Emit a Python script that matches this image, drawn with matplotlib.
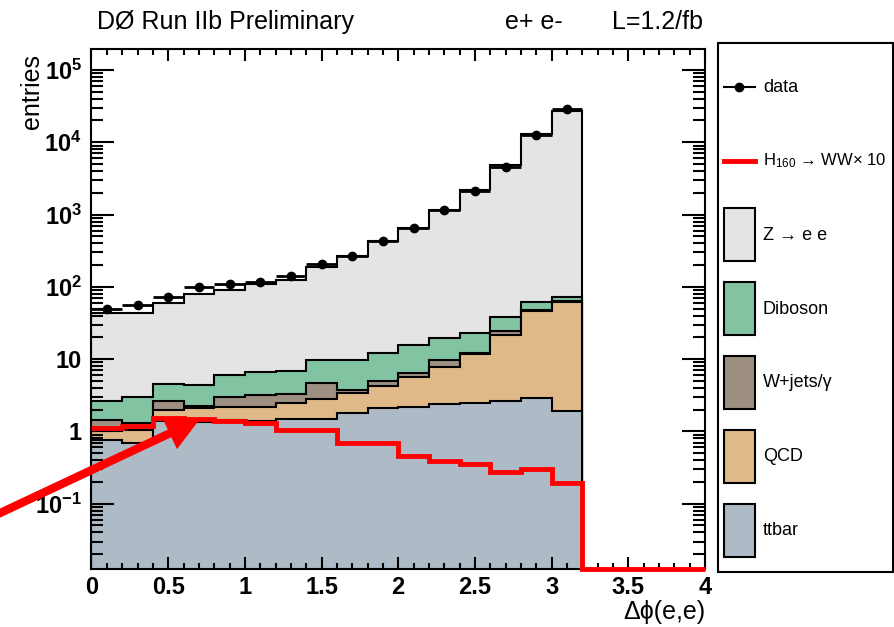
import numpy as np
import matplotlib.pyplot as plt
from matplotlib.lines import Line2D
from matplotlib.patches import Patch, Rectangle
from matplotlib.legend_handler import HandlerLine2D
from matplotlib.ticker import MultipleLocator, LogLocator, NullFormatter

plt.rcParams['font.family'] = ['Liberation Sans', 'DejaVu Sans']
plt.rcParams['mathtext.fontset'] = 'custom'
plt.rcParams['mathtext.rm'] = 'Liberation Sans'
plt.rcParams['mathtext.it'] = 'Liberation Sans:italic'
plt.rcParams['mathtext.bf'] = 'Liberation Sans:bold'

# bin edges (delta phi)
edges = [0.0, 0.2, 0.4, 0.6, 0.8, 1.0, 1.2, 1.4, 1.6, 1.8, 2.0, 2.2, 2.4, 2.6, 2.8, 3.0, 3.2]
sig_edges = edges + [3.4, 3.6, 3.8, 4.0]

# backgrounds, per bin
ttbar = [0.76, 0.70, 1.40, 1.37, 1.42, 1.40, 1.47, 1.47, 1.79, 2.1, 2.2, 2.4, 2.5, 2.6, 2.94, 1.92]
qcd = [0.26, 0.35, 0.58, 0.73, 0.78, 0.76, 0.98, 1.33, 1.61, 2.1, 3.5, 5.5, 9.1, 19.0, 44.1, 59.1]
wjets = [0.42, 0.25, 0.69, 0.15, 0.77, 1.04, 0.85, 1.9, 0.3, 0.8, 0.7, 1.9, 0.4, 2.9, 1.5, 3.0]
diboson = [1.23, 1.67, 1.83, 2.15, 3.03, 3.5, 3.6, 4.9, 5.9, 7.0, 9.3, 9.6, 10.8, 13.5, 13.5, 9.0]
zee = [41.3, 40.0, 55.5, 75.6, 84.0, 101.3, 119.1, 180.4, 255.4, 418, 634, 1131, 2157, 4802, 12838, 27227]

data = [49, 56, 73, 98, 110, 117, 143, 204, 270, 436, 650, 1170, 2140, 4520, 12700, 28600]

# H160 -> WW signal x10
signal = [1.12, 1.18, 1.52, 1.50, 1.41, 1.30, 1.05, 1.05, 0.70, 0.69, 0.45, 0.39, 0.35, 0.275, 0.30, 0.196,
          0, 0, 0, 0]

names = ['ttbar', 'QCD', 'W+jets/γ', 'Diboson', 'Z → e e']
colors = ['#aebbc7', '#dfba88', '#9d8f81', '#82c3a2', '#e4e4e4']

ylo, yhi = 0.0125, 1.95e5


class CenteredLine(HandlerLine2D):
    # put legend lines in the middle of the tall handle box
    def create_artists(self, legend, orig_handle, xdescent, ydescent, width, height, fontsize, trans):
        arts = super().create_artists(legend, orig_handle, xdescent, ydescent, width, height,
                                      fontsize, trans)
        for a in arts:
            a.set_ydata(np.asarray(a.get_ydata()) - ydescent / 2)
        return arts


fig = plt.figure(figsize=(8.95, 6.27), dpi=100)
ax = fig.add_axes([91.5 / 895, 1 - 569 / 627, 613.5 / 895, 520 / 627])
ax.set_yscale('log')

cum = np.cumsum([ttbar, qcd, wjets, diboson, zee], axis=0)
for i in reversed(range(len(cum))):
    ax.stairs(cum[i], edges, baseline=1e-4, fill=True, color=colors[i], lw=0)
    ax.stairs(cum[i], edges, baseline=1e-4, color='k', lw=1.5)

ax.stairs(np.clip(signal, ylo, None), sig_edges, baseline=None, color='red', lw=3.5,
          clip_on=False, zorder=5)

centers = (np.array(edges[:-1]) + np.array(edges[1:])) / 2
ax.errorbar(centers, data, xerr=0.1, fmt='o', color='k', ms=6, elinewidth=2, capsize=0, zorder=6)

ax.set_xlim(0, 4)
ax.set_ylim(ylo, yhi)
ax.set_xticks([0, 0.5, 1, 1.5, 2, 2.5, 3, 3.5, 4], ['0', '0.5', '1', '1.5', '2', '2.5', '3', '3.5', '4'])
ax.xaxis.set_minor_locator(MultipleLocator(0.1))
ax.set_yticks([0.1, 1, 10, 100, 1e3, 1e4, 1e5],
              [r'$\mathbf{10^{-1}}$', '1', '10', r'$\mathbf{10^{2}}$', r'$\mathbf{10^{3}}$',
               r'$\mathbf{10^{4}}$', r'$\mathbf{10^{5}}$'])
ax.yaxis.set_minor_locator(LogLocator(base=10, subs=range(2, 10), numticks=20))
ax.yaxis.set_minor_formatter(NullFormatter())
ax.tick_params(which='both', direction='in', top=True, right=True, width=1.5, labelsize=17)
ax.tick_params(axis='x', which='major', length=8.5, pad=5)
ax.tick_params(axis='x', which='minor', length=4.3)
ax.tick_params(axis='y', which='major', length=16.5, pad=7)
ax.tick_params(axis='y', which='minor', length=8.6)
for lab in ax.get_xticklabels() + ax.get_yticklabels():
    lab.set_fontweight('bold')
for s in ax.spines.values():
    s.set_linewidth(1.5)

# arrow
ax.annotate('', xy=(0.706, 1.475), xytext=(-0.01, 0.175), textcoords='figure fraction',
            arrowprops=dict(arrowstyle='simple,head_length=1.2,head_width=1.25,tail_width=0.3',
                            color='red', lw=0, shrinkA=0, shrinkB=0, mutation_scale=20),
            annotation_clip=False, zorder=7)

fig.text(97 / 895, 1 - 22 / 627, 'DØ Run IIb Preliminary', fontsize=18, va='center')
fig.text(505 / 895, 1 - 22 / 627, 'e+ e-', fontsize=18, va='center')
fig.text(703 / 895, 1 - 22 / 627, 'L=1.2/fb', fontsize=18, va='center', ha='right')
fig.text(32 / 895, 1 - 54 / 627, 'entries', fontsize=18, rotation=90, ha='center', va='top')
fig.text(705 / 895, 1 - 612 / 627, 'Δϕ(e,e)', fontsize=18, ha='right', va='center')

# legend
handles = [Line2D([], [], color='k', marker='o', ms=6, lw=1.5),
           Line2D([], [], color='red', lw=3.5)]
labels = ['data', r'H$_{160}$ → WW× 10']
for i in reversed(range(len(names))):
    handles.append(Patch(facecolor=colors[i], edgecolor='k', lw=1.5))
    labels.append(names[i])
fig.add_artist(Rectangle((718 / 895, 1 - 572 / 627), 175 / 895, 529 / 627, transform=fig.transFigure,
                         fill=False, lw=1.5, ec='k'))
leg = ax.legend(handles, labels, loc='upper left', bbox_to_anchor=(724 / 895, 1 - 60.5 / 627),
                bbox_transform=fig.transFigure, frameon=False, fontsize=13, handlelength=1.7,
                handleheight=4.15, labelspacing=1.15, handletextpad=0.45, borderpad=0, borderaxespad=0,
                handler_map={Line2D: CenteredLine()})
leg.get_texts()[1].set_fontsize(12)

fig.savefig('out.png', dpi=100)
